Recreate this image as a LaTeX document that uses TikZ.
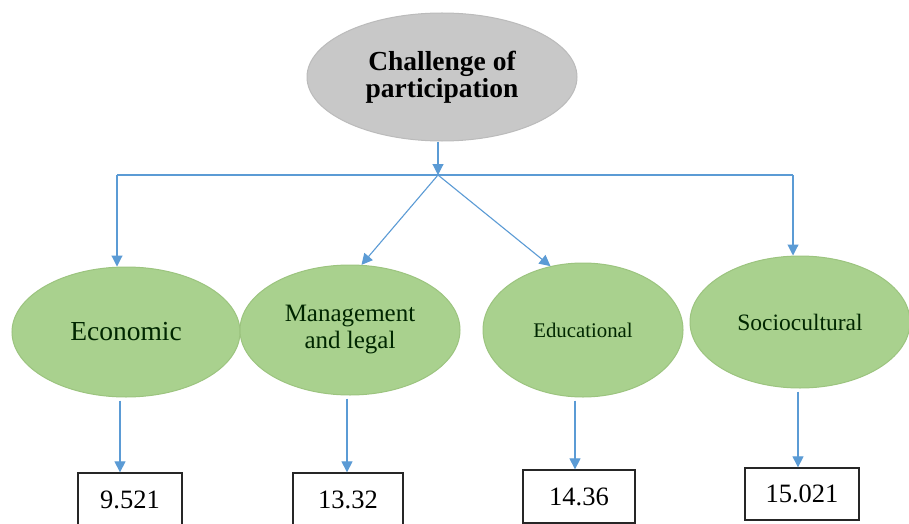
\documentclass[tikz,border=0pt]{standalone}
\usepackage{fontspec}
\setmainfont{Liberation Serif}
\usetikzlibrary{shapes.geometric,arrows.meta}
\definecolor{grn}{HTML}{A9D18E}
\definecolor{grnline}{HTML}{9CC47F}
\definecolor{gry}{HTML}{C8C8C8}
\definecolor{gryline}{HTML}{BBBBBB}
\definecolor{arrblue}{HTML}{5B9BD5}
\tikzset{
  x=1pt,y=1pt,
  greenell/.style={ellipse,draw=grnline,fill=grn,line width=1pt,inner sep=0pt,align=center,text=black!85!green},
  grayell/.style={ellipse,draw=gryline,fill=gry,line width=1pt,inner sep=0pt,align=center},
  valbox/.style={rectangle,draw=black!85,line width=1.3pt,inner sep=0pt,font=\fontsize{26.5}{28}\selectfont},
  arr/.style={draw=arrblue,line width=1.1pt,-{Triangle[length=11pt,width=11pt]}},
  plain/.style={draw=arrblue,line width=1.1pt}
}
\begin{document}
\begin{tikzpicture}
\useasboundingbox (0,0) rectangle (909,-524);
\clip (0,0) rectangle (909,-524);
\fill[white] (0,0) rectangle (909,-524);

\node[grayell,minimum width=270,minimum height=128,font=\bfseries\fontsize{27.5}{27.5}\selectfont] (top) at (442,-77) {Challenge of\\participation};

\node[greenell,minimum width=228,minimum height=130,font=\fontsize{27.5}{28}\selectfont] (econ) at (126,-332) {Economic};
\node[greenell,minimum width=220,minimum height=130,font=\fontsize{25}{27}\selectfont] (mgmt) at (350,-330) {Management\\and legal};
\node[greenell,minimum width=200,minimum height=134,font=\fontsize{20.8}{22}\selectfont] (edu) at (583,-330) {Educational};
\node[greenell,minimum width=220,minimum height=132,font=\fontsize{23.5}{25}\selectfont] (soc) at (800,-322) {Sociocultural};

\node[valbox,minimum width=104,minimum height=54] (b1) at (130,-500) {9.521};
\node[valbox,minimum width=110,minimum height=54] (b2) at (348,-500) {13.32};
\node[valbox,minimum width=112,minimum height=53] (b3) at (579,-496.5) {14.36};
\node[valbox,minimum width=114,minimum height=52] (b4) at (802,-494) {15.021};

\coordinate (jn) at (438,-175);
\coordinate (eL) at (117,-175);
\coordinate (eR) at (793,-175);

\draw[arr] (top.south -| jn) -- (jn);
\draw[plain] (eL) -- (eR);
\draw[arr] (eL) -- (eL |- econ.north);
\draw[arr] (eR) -- (eR |- soc.north);
\draw[arr] (jn) -- (mgmt.80);
\draw[arr] (jn) -- (edu.117);

\coordinate (a1) at (120,0);
\coordinate (a2) at (347,0);
\coordinate (a3) at (575,0);
\coordinate (a4) at (798,0);
\draw[arr] ([yshift=-3pt]econ.south -| a1) -- (a1 |- b1.north);
\draw[arr] ([yshift=-3pt]mgmt.south -| a2) -- (a2 |- b2.north);
\draw[arr] ([yshift=-3pt]edu.south -| a3) -- (a3 |- b3.north);
\draw[arr] ([yshift=-3pt]soc.south -| a4) -- (a4 |- b4.north);
\end{tikzpicture}
\end{document}
